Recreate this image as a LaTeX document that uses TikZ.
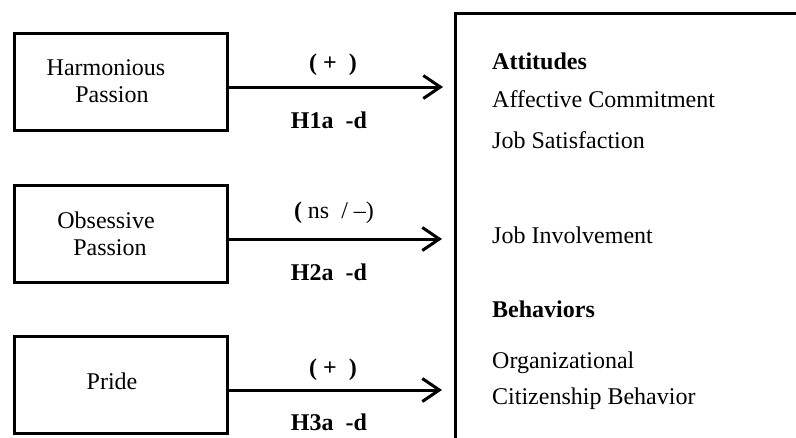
\documentclass[tikz,border=0pt]{standalone}
\usepackage{fontspec}
\setmainfont{Liberation Serif}
\usetikzlibrary{arrows.meta}

\begin{document}
\begin{tikzpicture}[
                x=1pt, y=-1pt,
                every node/.style={font=\fontsize{24}{27}\selectfont, inner sep=0pt},
                box/.style={draw, line width=3pt, minimum width=213pt, minimum height=97pt},
                link/.style={line width=3pt, -{Straight Barb[length=17pt, width=23pt]}} ]

            \useasboundingbox (0,0) rectangle (796,437);

            % predictor boxes
            \node[box] (hpbox) at (121,81.5) {};
            \node[box] (opbox) at (121,234) {};
            \node[box] (prbox) at (121,384.5) {};

            \node[anchor=base, align=center] (hp) at (106,102) {Harmonious\\\hspace*{12pt}Passion};
            \node[anchor=base, align=center] (op) at (106,255) {Obsessive\\\hspace*{8pt}Passion};
            \node[anchor=base] (pr) at (112,389) {Pride};

            % outcome box, cut off at the right and bottom
            \draw[line width=3pt] (800,13.5) -- (455,13.5) -- (455,440);

            \coordinate (hpend) at (443,87);
            \coordinate (opend) at (442,239);
            \coordinate (prend) at (442,390);

            \draw[link] (hpbox.east |- hpend) -- (hpend);
            \draw[link] (opbox.east |- opend) -- (opend);
            \draw[link] (prbox.east |- prend) -- (prend);

            \node[anchor=base] (hpsign) at (333,70) {\bfseries ( +\ \ )};
            \node[anchor=base] (hphyp) at (329,128) {\bfseries H1a\ \ -d};
            \node[anchor=base] (opsign) at (334,218) {{\bfseries (} ns\ \ /\ –)};
            \node[anchor=base] (ophyp) at (329,280) {\bfseries H2a\ \ -d};
            \node[anchor=base] (prsign) at (333,375) {\bfseries ( +\ \ )};
            \node[anchor=base] (prhyp) at (329,430) {\bfseries H3a\ \ -d};

            % outcomes
            \node[anchor=base west] (att) at (492,69) {\bfseries Attitudes};
            \node[anchor=base west] (ac) at (492,107) {Affective\ Commitment};
            \node[anchor=base west] (js) at (492,148) {Job Satisfaction};
            \node[anchor=base west] (ji) at (492,243) {Job\ Involvement};
            \node[anchor=base west] (beh) at (492,317) {\bfseries Behaviors};
            \node[anchor=base west] (ocb) at (492,368) {Organizational};
            \node[anchor=base west] (cit) at (492,404) {Citizenship Behavior};

        \end{tikzpicture}
\end{document}
